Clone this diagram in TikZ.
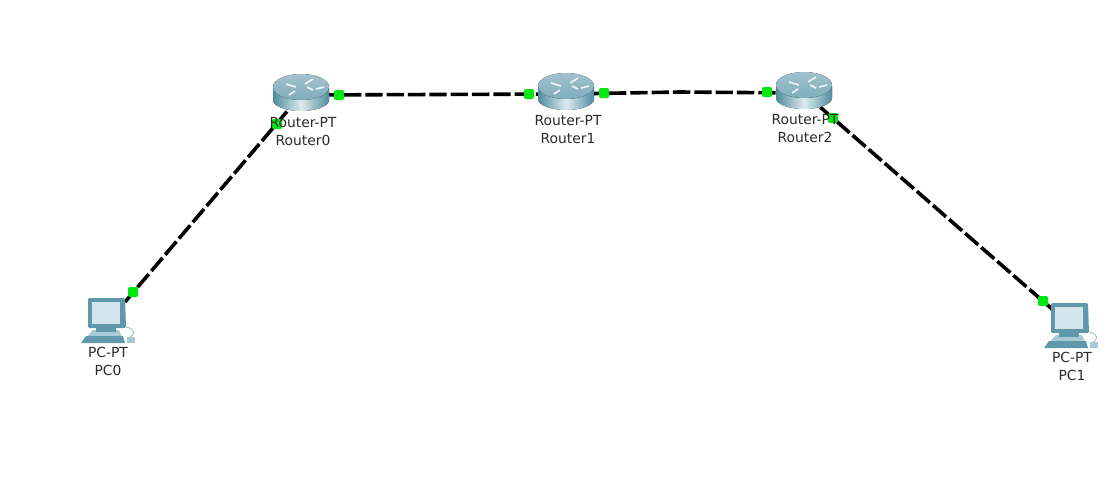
\documentclass[tikz,border=0pt]{standalone}
\usepackage{fontspec}
\setmainfont{DejaVu Sans}
\definecolor{rtop}{HTML}{A3C1CE}
\definecolor{rline}{HTML}{EEF5F8}
\definecolor{rdark}{HTML}{4F8C9E}
\definecolor{rmid}{HTML}{7FADBC}
\definecolor{rlight}{HTML}{DCEBEF}
\definecolor{pcbody}{HTML}{5F98AB}
\definecolor{pcscreen}{HTML}{D5E5EC}
\definecolor{pclight}{HTML}{A9C9D5}
\definecolor{txt}{HTML}{2B2B2B}
\definecolor{portgreen}{HTML}{00E810}
\tikzset{
  x=0.75pt,y=-0.75pt,
  anchorpt/.style={inner sep=0pt,minimum size=0pt,draw=none},
  port/.style={fill=portgreen,draw=none,inner sep=0pt,minimum size=7.5pt,rounded corners=1.5pt},
  link/.style={line width=2.7pt,black,dash pattern=on 13pt off 3pt},
  lab/.style={font=\fontsize{10.4pt}{12pt}\selectfont,text=txt,inner sep=0pt},
  routericon/.pic={
    \fill[left color=rdark,right color=rdark,middle color=rlight]
      (-28,-7) -- (-28,5) arc[x radius=28,y radius=11,start angle=180,end angle=0] -- (28,-7) -- cycle;
    \fill[top color=rtop,bottom color=rmid] (0,-8) ellipse[x radius=28,y radius=13];
    \draw[rline,line width=1.2pt] (-15,-11) -- (-5,-8) (15,-6) -- (23,-8) (4,-11) -- (12,-16) (-6,-4) -- (-12,0) (6,-8) -- (12,-5);
  },
  pcicon/.pic={
    % base and keyboard
    \fill[pclight] (-21,24) -- (-13,15) -- (13,15) -- (17,24) -- cycle;
    \fill[pcbody] (-25,28) -- (-20,21) -- (17,21) -- (19,28) -- cycle;
    % stand
    \fill[pcbody] (-10,9) rectangle (10,17);
    % monitor
    \fill[pcbody,rounded corners=1pt] (-18,-17) -- (19,-17) -- (20,13) -- (-18,13) -- cycle;
    \fill[pcscreen] (-14,-13) rectangle (14,9);
    % mouse
    \draw[pclight,line width=0.8pt] (20,12) .. controls (30,14) and (29,20) .. (24,22);
    \fill[pclight] (21,22) rectangle (29,28);
  }
}
\begin{document}
\begin{tikzpicture}
\useasboundingbox (0,0) rectangle (1118,497);
\fill[white] (0,0) rectangle (1118,497);
% device centres
\node[anchorpt] (r0) at (301,95) {};
\node[anchorpt] (r1) at (566,94) {};
\node[anchorpt] (r2) at (804,93) {};
\node[anchorpt] (pc0) at (106,315) {};
\node[anchorpt] (pc1) at (1069,320) {};
\coordinate (k1) at (680,92);
\coordinate (e0) at (125,302);
\coordinate (e1) at (1052,309);
% links
\draw[link] (r0) -- (r1);
\draw[link] (r1) -- (k1) -- (r2);
\draw[link] (r0) -- (e0);
\draw[link] (r2) -- (e1);
% ports
\node[port] (p0r) at (339,95) {};
\node[port] (p1l) at (529,94) {};
\node[port] (p1r) at (604,93) {};
\node[port] (p2l) at (767,92) {};
\node[port] (p0b) at (277,124) {};
\node[port] (pc0p) at (133,292) {};
\node[port] (p2b) at (833,118) {};
\node[port] (pc1p) at (1043,301) {};
% icons
\pic at (r0) {routericon};
\pic at (r1) {routericon};
\pic at (r2) {routericon};
\pic at (pc0) {pcicon};
\pic at (pc1) {pcicon};
% labels
\node[lab] (l0a) at (303,123) {Router-PT};
\node[lab] (l0b) at (303,140) {Router0};
\node[lab] (l1a) at (568,121) {Router-PT};
\node[lab] (l1b) at (568,139) {Router1};
\node[lab] (l2a) at (805,120) {Router-PT};
\node[lab] (l2b) at (805,137) {Router2};
\node[lab] (l3a) at (108,352) {PC-PT};
\node[lab] (l3b) at (108,370) {PC0};
\node[lab] (l4a) at (1072,357) {PC-PT};
\node[lab] (l4b) at (1072,375) {PC1};
\end{tikzpicture}
\end{document}
